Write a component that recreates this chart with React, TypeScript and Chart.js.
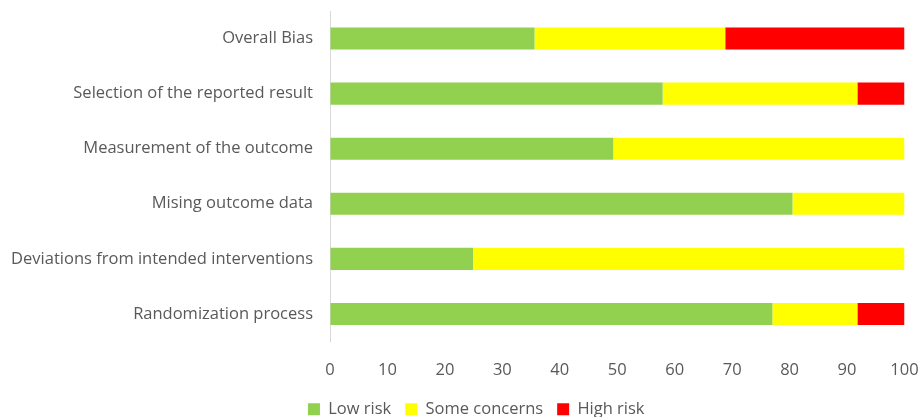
import React, { useEffect, useRef } from "react";
import { Chart, registerables } from "chart.js";

Chart.register(...registerables);

const categories = [
  "Overall Bias",
  "Selection of the reported result",
  "Measurement of the outcome",
  "Mising outcome data",
  "Deviations from intended interventions",
  "Randomization process",
];
const lowRisk = [35.6, 57.9, 49.3, 80.5, 24.9, 77.0];
const someConcerns = [33.2, 33.9, 50.7, 19.5, 75.1, 14.8];
const highRisk = [31.2, 8.2, 0, 0, 0, 8.2];
const xTicks = [0, 10, 20, 30, 40, 50, 60, 70, 80, 90, 100];

const FONT = "'Open Sans', 'Noto Sans', sans-serif";
const TEXT = "#595959";
const FS = 16.5;

const legendShift = {
  id: "legendShift",
  afterLayout(chart: any) {
    if (chart.legend) {
      chart.legend.left += 24;
      chart.legend.right += 24;
    }
  },
};

export default function App() {
  const ref = useRef<HTMLCanvasElement>(null);
  useEffect(() => {
    const ctx = ref.current!;
    const common = { barPercentage: 0.8, categoryPercentage: 0.5 };
    const chart = new Chart(ctx, {
      type: "bar",
      data: {
        labels: categories,
        datasets: [
          { label: "Low risk", data: lowRisk, backgroundColor: "#92D050", ...common },
          { label: "Some concerns", data: someConcerns, backgroundColor: "#FFFF00", ...common },
          { label: "High risk", data: highRisk, backgroundColor: "#FF0000", ...common },
        ],
      },
      options: {
        indexAxis: "y",
        animation: false,
        responsive: false,
        maintainAspectRatio: false,
        layout: { padding: { top: 11, right: 17.5, left: 0, bottom: -10.5 } },
        scales: {
          x: {
            stacked: true,
            min: 0,
            max: 100,
            afterBuildTicks: (s: any) => {
              s.ticks = xTicks.map((v) => ({ value: v }));
            },
            grid: { display: true, drawOnChartArea: false, drawTicks: true, tickLength: 19, color: "rgba(0,0,0,0)" },
            border: { display: false },
            ticks: { color: TEXT, font: { family: FONT, size: FS }, padding: 0 },
            afterFit: (s: any) => {
              s.height = 45.5;
            },
          },
          y: {
            stacked: true,
            grid: { display: true, drawOnChartArea: false, drawTicks: true, tickLength: 17, color: "rgba(0,0,0,0)" },
            border: { display: true, color: "#D9D9D9", width: 1 },
            ticks: { color: TEXT, font: { family: FONT, size: FS }, padding: 0 },
            afterFit: (s: any) => {
              s.width = 330;
            },
          },
        },
        plugins: {
          legend: {
            position: "bottom",
            labels: {
              color: TEXT,
              font: { family: FONT, size: FS },
              boxWidth: 12,
              boxHeight: 12,
              padding: 14,
            },
          },
          tooltip: { enabled: false },
        },
      },
      plugins: [legendShift],
    });
    return () => chart.destroy();
  }, []);
  return (
    <div style={{ position: "absolute", left: 0, top: 0, width: 922, height: 417, background: "#fff" }}>
      <canvas ref={ref} width={922} height={417} style={{ width: 922, height: 417 }} />
    </div>
  );
}
